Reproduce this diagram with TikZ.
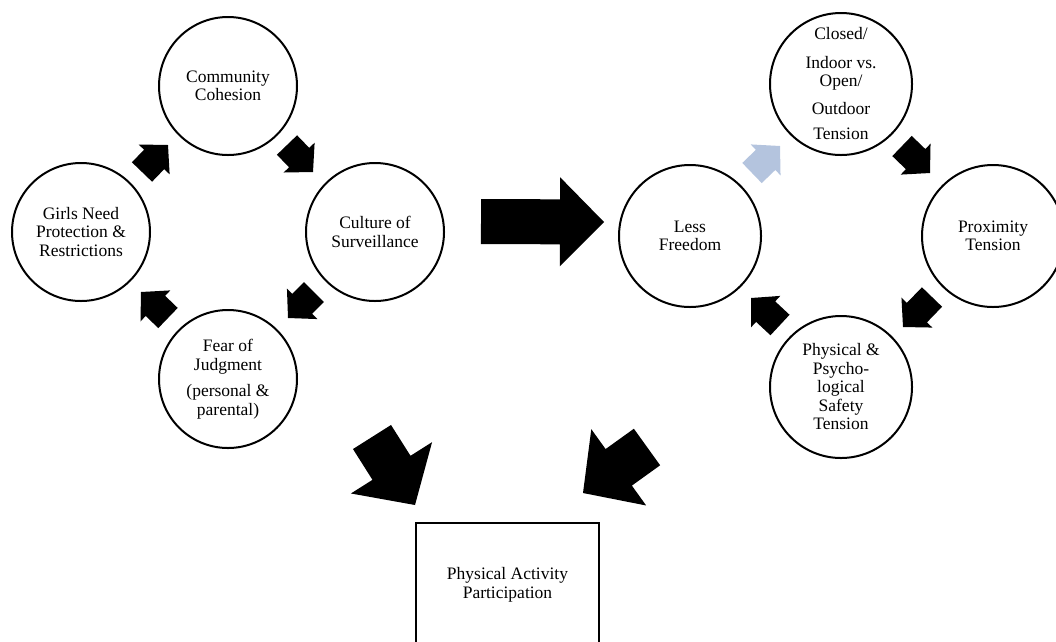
\documentclass[tikz,border=0pt]{standalone}
\usepackage{fontspec}
\setmainfont{Liberation Serif}
\usetikzlibrary{calc}

% Block arrow from tail to tip: [colour]{tail}{tip}{shaft half width}{head half width}{head length}
\newcommand\blockarrow[6][black]{%
  \coordinate (ba-h) at ($(#3)!#6!(#2)$);
  \fill[#1] ($(#2)!#4!90:(#3)$) -- ($(ba-h)!#4!90:(#3)$) -- ($(ba-h)!#5!90:(#3)$)
    -- (#3) -- ($(ba-h)!#5!-90:(#3)$) -- ($(ba-h)!#4!-90:(#3)$) -- ($(#2)!#4!-90:(#3)$) -- cycle;
}

\definecolor{softblue}{RGB}{180,196,222}

\tikzset{
  txt/.style={font=\fontsize{17.5}{18.5}\selectfont, align=center, text=black},
  bubble/.style={txt, draw, circle, line width=2pt, inner sep=0pt, minimum size=138pt},
  bigbubble/.style={bubble, minimum size=142pt},
}

\begin{document}
\begin{tikzpicture}[x=1pt,y=-1pt]
\useasboundingbox (0,0) rectangle (1056,641);

% left cycle
\node[bubble] (comm)  at (228,86)  {Community\\Cohesion};
\node[bubble] (girls) at (81,232)  {Girls Need\\Protection \&\\Restrictions};
\node[bubble] (cult)  at (375,232) {Culture of\\Surveillance};
\node[bubble] (fear)  at (228,379) {Fear of\\Judgment\\[8pt](personal \&\\parental)};

% right cycle
\node[bigbubble] (less)  at (690,236) {Less\\Freedom};
\node[bigbubble] (closed) at (841,84) {Closed/\\[10pt]Indoor vs.\\Open/\\[9pt]Outdoor\\[7pt]Tension};
\node[bigbubble] (prox)  at (993,236) {Proximity\\Tension};
\node[bigbubble] (safe)  at (841,387) {Physical \&\\Psycho-\\logical\\Safety\\Tension};

% outcome box
\draw[line width=2.5pt] (416,523) rectangle (599,650);
\node[txt] (pa) at (507.5,585) {Physical Activity\\Participation};

% arrow end points
\coordinate (a1t) at (142,172); \coordinate (a1h) at (168,145);
\coordinate (a2t) at (287,145); \coordinate (a2h) at (313,172);
\coordinate (a3t) at (314,292); \coordinate (a3h) at (288,318);
\coordinate (a4t) at (168,318); \coordinate (a4h) at (141,292);
\coordinate (b1t) at (752,173); \coordinate (b1h) at (780,146);
\coordinate (b2t) at (902,146); \coordinate (b2h) at (930,173);
\coordinate (b3t) at (932,297); \coordinate (b3h) at (903,327);
\coordinate (b4t) at (780,325); \coordinate (b4h) at (751,298);
\coordinate (rt) at (481,221.5); \coordinate (rh) at (604,222);
\coordinate (dlt) at (372,437); \coordinate (dlh) at (415,505);
\coordinate (drt) at (647,447); \coordinate (drh) at (583,493);

% cycle arrows
\blockarrow{a1t}{a1h}{14pt}{21.5pt}{20pt}
\blockarrow{a2t}{a2h}{14pt}{21.5pt}{20pt}
\blockarrow{a3t}{a3h}{14pt}{21.5pt}{20pt}
\blockarrow{a4t}{a4h}{14pt}{21.5pt}{20pt}
\blockarrow[softblue]{b1t}{b1h}{14pt}{21.5pt}{20pt}
\blockarrow{b2t}{b2h}{14pt}{21.5pt}{20pt}
\blockarrow{b3t}{b3h}{14pt}{21.5pt}{20pt}
\blockarrow{b4t}{b4h}{14pt}{21.5pt}{20pt}

% large arrows
\blockarrow{rt}{rh}{22.5pt}{44.5pt}{44pt}
\blockarrow{dlt}{dlh}{22.5pt}{48pt}{44pt}
\blockarrow{drt}{drh}{22.5pt}{47pt}{44pt}
\end{tikzpicture}
\end{document}
